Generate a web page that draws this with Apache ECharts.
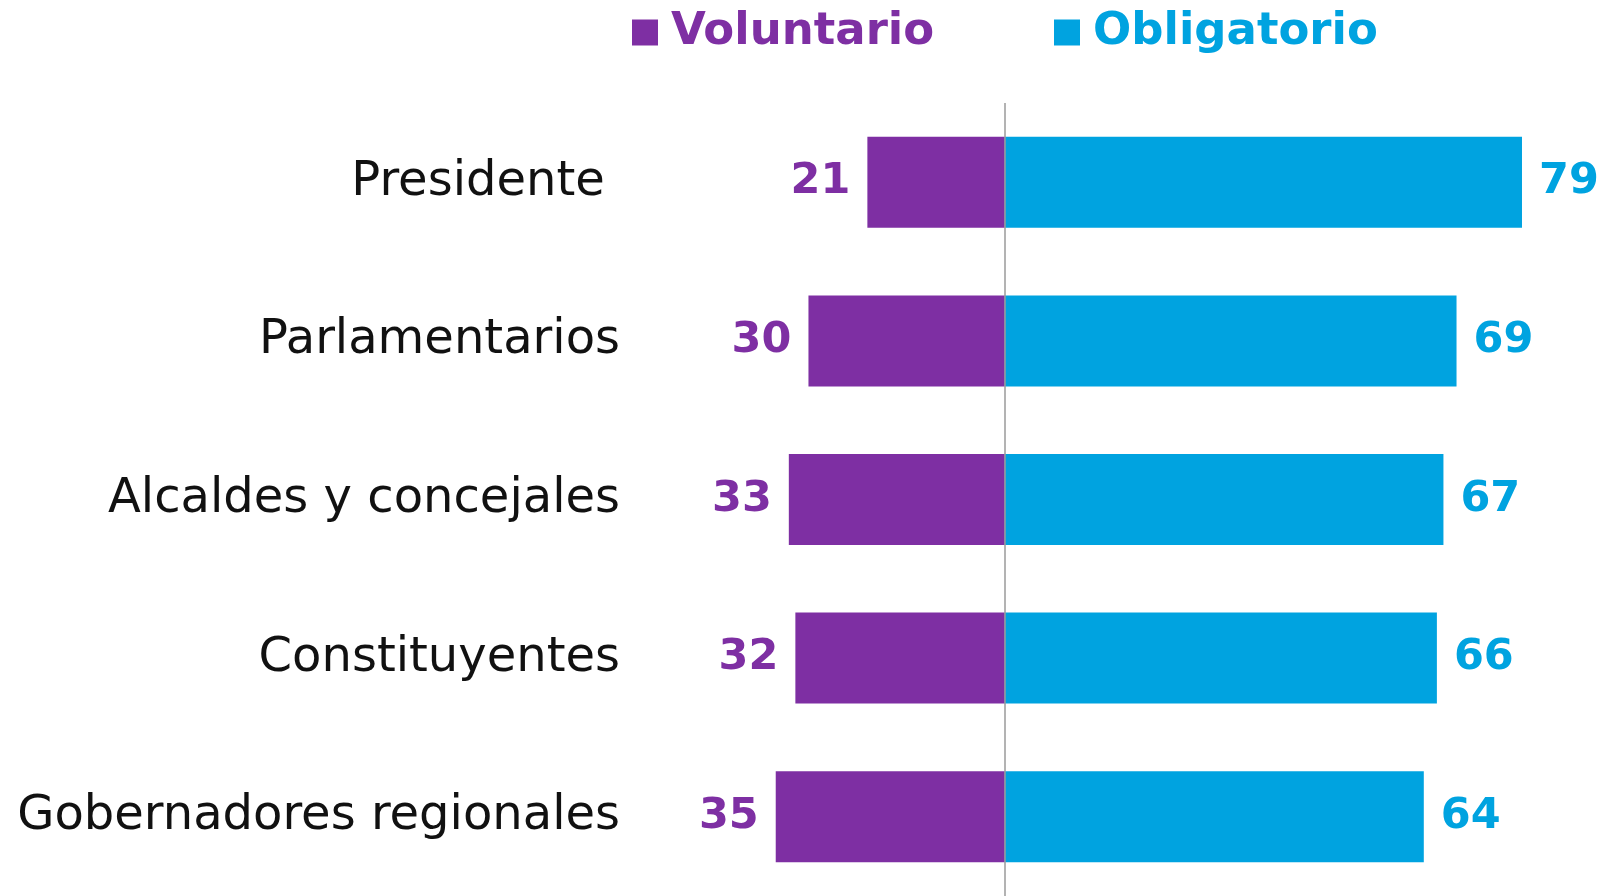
<!DOCTYPE html>
<html>
<head>
<meta charset="utf-8">
<script src="https://cdn.jsdelivr.net/npm/echarts@6/dist/echarts.min.js"></script>
<style>
html,body{margin:0;padding:0;background:#fff;}
#chart{width:1603px;height:896px;}
</style>
</head>
<body>
<div id="chart"></div>
<script>
const categories = ['Presidente ', 'Parlamentarios', 'Alcaldes y concejales', 'Constituyentes', 'Gobernadores regionales'];
const voluntario = [21, 30, 33, 32, 35];
const obligatorio = [79, 69, 67, 66, 64];
const seriesNames = ['Voluntario', 'Obligatorio'];

const PURPLE = '#7e2fa3';
const BLUE = '#00a3e0';

const chart = echarts.init(document.getElementById('chart'));
chart.setOption({
  backgroundColor: '#ffffff',
  animation: false,
  legend: [
    {
      left: 627, top: 5,
      data: [{name: seriesNames[0], textStyle: {color: PURPLE}}],
      icon: 'rect', itemWidth: 26, itemHeight: 26,
      textStyle: {fontFamily: 'DejaVu Sans', fontWeight: 'bold', fontSize: 45, padding: [0, 0, 0, 8]}
    },
    {
      left: 1049, top: 5,
      data: [{name: seriesNames[1], textStyle: {color: BLUE}}],
      icon: 'rect', itemWidth: 26, itemHeight: 26,
      textStyle: {fontFamily: 'DejaVu Sans', fontWeight: 'bold', fontSize: 45, padding: [0, 0, 0, 8]}
    }
  ],
  grid: {left: 743, right: 9, top: 103, height: 797, containLabel: false},
  xAxis: {
    type: 'value', min: -40, max: 90, show: false
  },
  yAxis: {
    type: 'category', data: categories, inverse: true,
    axisLine: {show: false}, axisTick: {show: false},
    axisLabel: {
      margin: 123, color: '#111111', fontFamily: 'DejaVu Sans', fontSize: 48
    }
  },
  series: [
    {
      name: seriesNames[0], type: 'bar', barWidth: 91, barGap: '-100%',
      data: voluntario.map(v => -v),
      itemStyle: {color: PURPLE},
      label: {
        show: true, position: 'left', distance: 17,
        formatter: p => Math.abs(p.value),
        color: PURPLE, fontFamily: 'DejaVu Sans', fontWeight: 'bold', fontSize: 43
      }
    },
    {
      name: seriesNames[1], type: 'bar', barWidth: 91, barGap: '-100%',
      data: obligatorio,
      itemStyle: {color: BLUE},
      label: {
        show: true, position: 'right', distance: 17,
        color: BLUE, fontFamily: 'DejaVu Sans', fontWeight: 'bold', fontSize: 43
      },
      markLine: {
        silent: true, symbol: 'none',
        label: {show: false},
        lineStyle: {color: '#9a9a9a', width: 1.5, type: 'solid'},
        data: [{xAxis: 0}]
      }
    }
  ]
});
</script>
</body>
</html>
